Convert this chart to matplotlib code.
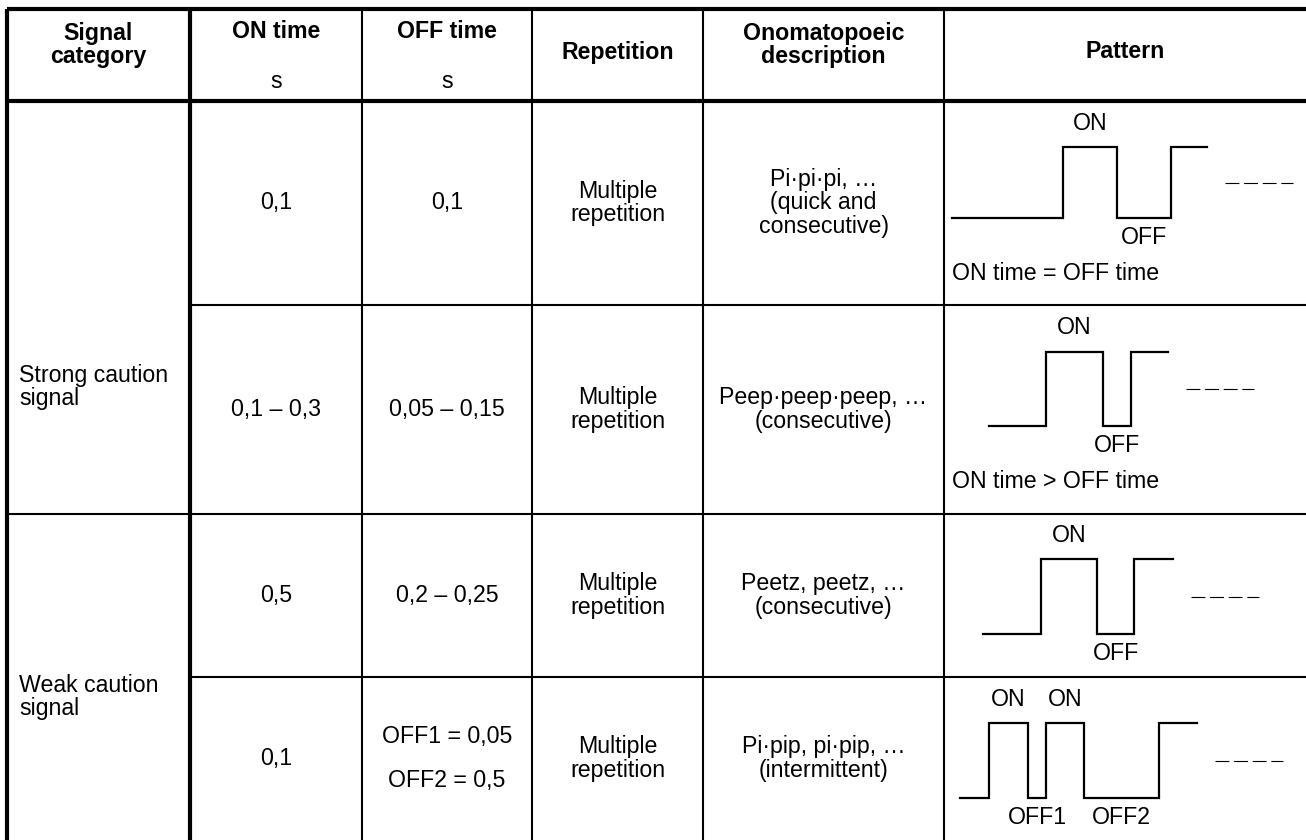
import matplotlib.pyplot as plt

plt.rcParams['font.family'] = ['Liberation Sans', 'DejaVu Sans']
plt.rcParams['lines.scale_dashes'] = False

# table content
headers = ["Signal\ncategory", "ON time", "OFF time", "Repetition",
           "Onomatopoeic\ndescription", "Pattern"]
units = ["", "s", "s", "", "", ""]
categories = ["Strong caution\nsignal", "Weak caution\nsignal"]
on_times = ["0,1", "0,1 \u2013 0,3", "0,5", "0,1"]
off_times = [["0,1"], ["0,05 \u2013 0,15"], ["0,2 \u2013 0,25"],
             ["OFF1 = 0,05", "OFF2 = 0,5"]]
repetition = ["Multiple\nrepetition"] * 4
descriptions = ["Pi\u00b7pi\u00b7pi, \u2026\n(quick and\nconsecutive)",
                "Peep\u00b7peep\u00b7peep, \u2026\n(consecutive)",
                "Peetz, peetz, \u2026\n(consecutive)",
                "Pi\u00b7pip, pi\u00b7pip, \u2026\n(intermittent)"]
notes = ["ON time = OFF time", "ON time > OFF time", "", ""]

# waveform segment durations (low/high alternating, starting low)
wave_durations = [[111, 54, 54, 36],
                  [57, 57, 28, 37],
                  [58, 56, 37, 39],
                  [29, 39, 18, 38, 75, 38]]
on_labels = [["ON"], ["ON"], ["ON"], ["ON", "ON"]]
off_labels = [["OFF"], ["OFF"], ["OFF"], ["OFF1", "OFF2"]]

# layout in pixels
col_x = [7, 190, 362, 532, 703, 944, 1306]
row_y = [9, 101, 305, 514, 677, 840]
wave_start = [952, 989, 983, 960]
wave_low = [218, 426, 634, 798]
wave_high = [147, 352, 559, 723]

fs = 16.7
fig = plt.figure(figsize=(13.06, 8.4), dpi=100)
ax = fig.add_axes([0, 0, 1, 1])
ax.set_xlim(0, 1306)
ax.set_ylim(840, 0)
ax.axis("off")

thick, thin = 3.0, 1.5
# horizontal rules
ax.plot([col_x[0], col_x[-1]], [row_y[0]] * 2, color="k", lw=thick, solid_capstyle="butt")
ax.plot([col_x[0], col_x[-1]], [row_y[1]] * 2, color="k", lw=thick, solid_capstyle="butt")
ax.plot([col_x[1], col_x[-1]], [row_y[2]] * 2, color="k", lw=thin, solid_capstyle="butt")
ax.plot([col_x[0], col_x[-1]], [row_y[3]] * 2, color="k", lw=thin, solid_capstyle="butt")
ax.plot([col_x[1], col_x[-1]], [row_y[4]] * 2, color="k", lw=thin, solid_capstyle="butt")
# vertical rules
for i, x in enumerate(col_x[:-1]):
    ax.plot([x, x], [row_y[0], row_y[-1]], color="k",
            lw=thick if i < 2 else thin, solid_capstyle="butt")

# header
for i, h in enumerate(headers):
    cx = (col_x[i] + col_x[i + 1]) / 2
    if units[i]:
        ax.text(cx, 31, h, ha="center", va="center", fontsize=fs, fontweight="bold")
        ax.text(cx, 82, units[i], ha="center", va="center", fontsize=fs)
    elif "\n" in h:
        ax.text(cx, 45, h, ha="center", va="center", fontsize=fs,
                fontweight="bold", linespacing=1.05)
    else:
        ax.text(cx, 52, h, ha="center", va="center", fontsize=fs, fontweight="bold")

# category cells
ax.text(19, 387, categories[0], ha="left", va="center", fontsize=fs, linespacing=1.05)
ax.text(19, 697, categories[1], ha="left", va="center", fontsize=fs, linespacing=1.05)

# data rows
for r in range(4):
    cy = (row_y[r + 1] + row_y[r + 2]) / 2
    ax.text((col_x[1] + col_x[2]) / 2, cy, on_times[r], ha="center", va="center", fontsize=fs)
    offs = off_times[r]
    if len(offs) == 1:
        ax.text((col_x[2] + col_x[3]) / 2, cy, offs[0], ha="center", va="center", fontsize=fs)
    else:
        ax.text((col_x[2] + col_x[3]) / 2, cy - 22, offs[0], ha="center", va="center", fontsize=fs)
        ax.text((col_x[2] + col_x[3]) / 2, cy + 22, offs[1], ha="center", va="center", fontsize=fs)
    ax.text((col_x[3] + col_x[4]) / 2, cy, repetition[r], ha="center", va="center",
            fontsize=fs, linespacing=1.05)
    ax.text((col_x[4] + col_x[5]) / 2, cy, descriptions[r], ha="center", va="center",
            fontsize=fs, linespacing=1.05)

    # waveform
    xs, ys = [wave_start[r]], [wave_low[r]]
    x = wave_start[r]
    level = wave_low[r]
    on_mid, off_mid = [], []
    for k, d in enumerate(wave_durations[r]):
        if k > 0:
            level = wave_high[r] if k % 2 == 1 else wave_low[r]
            xs.append(x)
            ys.append(level)
        if k % 2 == 1 and k < len(wave_durations[r]) - 1:
            on_mid.append(x + d / 2)
        elif k % 2 == 0 and k > 0:
            off_mid.append(x + d / 2)
        x += d
        xs.append(x)
        ys.append(level)
    ax.plot(xs, ys, color="k", lw=1.6, solid_joinstyle="miter")
    # dashes continuation
    mid = (wave_low[r] + wave_high[r]) / 2
    ax.plot([x + 18, x + 86], [mid, mid], color="k", lw=0.8, dashes=(10, 3.4))

    # labels
    for lab, mx in zip(on_labels[r], on_mid):
        ax.text(mx, wave_high[r] - 24, lab, ha="center", va="center", fontsize=fs)
    for lab, mx in zip(off_labels[r], off_mid):
        ax.text(mx, wave_low[r] + 20, lab, ha="center", va="center", fontsize=fs)
    if notes[r]:
        ax.text(952, row_y[r + 2] - 32, notes[r], ha="left", va="center", fontsize=fs)

fig.savefig("out.png", dpi=100)
